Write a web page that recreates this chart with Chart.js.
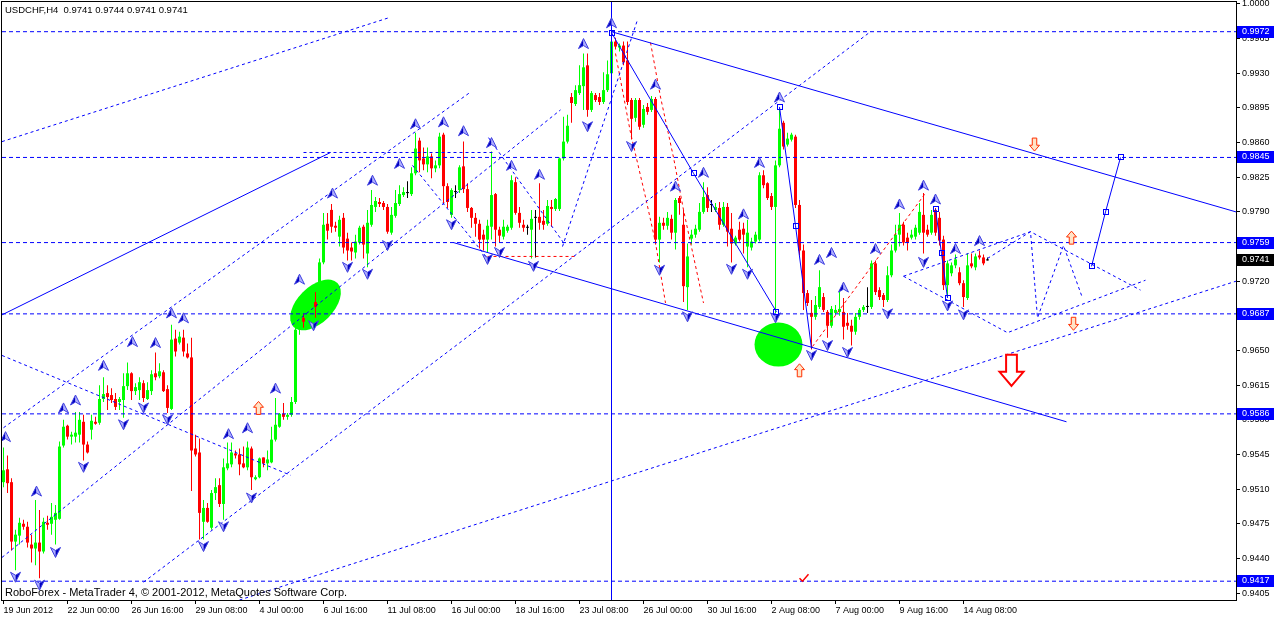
<!doctype html>
<html lang="en">
<head>
<meta charset="utf-8">
<title>USDCHF,H4</title>
<script src="https://cdn.jsdelivr.net/npm/chart.js@4.4.1/dist/chart.umd.min.js"></script>
<style>
  html, body { margin: 0; padding: 0; background: #fff; }
  #box { width: 1274px; height: 618px; }
</style>
</head>
<body>
<div id="box"><canvas id="myChart" width="1274" height="618"></canvas></div>
<script>
// ---- H4 candles, bar 0 = first visible bar ----
const opens = [
  0.9517,0.9530,0.9517,0.9457,0.9463,0.9475,0.9472,0.9454,0.9450,0.9456,
  0.9447,0.9476,0.9475,0.9479,0.9480,0.9554,0.9574,0.9563,0.9563,0.9565,
  0.9578,0.9555,0.9570,0.9578,0.9577,0.9601,0.9607,0.9605,0.9601,0.9598,
  0.9600,0.9614,0.9627,0.9609,0.9610,0.9617,0.9601,0.9609,0.9627,0.9624,
  0.9628,0.9611,0.9591,0.9662,0.9658,0.9663,0.9647,0.9643,0.9551,0.9547,
  0.9477,0.9491,0.9471,0.9506,0.9514,0.9495,0.9531,0.9535,0.9546,0.9545,
  0.9536,0.9532,0.9551,0.9520,0.9522,0.9542,0.9536,0.9537,0.9560,0.9573,
  0.9586,0.9583,0.9585,0.9598,0.9671,0.9683,0.9679,0.9691,0.9699,0.9694,
  0.9739,0.9778,0.9792,0.9776,0.9765,0.9784,0.9763,0.9754,0.9749,0.9759,
  0.9775,0.9748,0.9777,0.9795,0.9800,0.9799,0.9795,0.9769,0.9786,0.9798,
  0.9807,0.9809,0.9808,0.9829,0.9862,0.9844,0.9838,0.9846,0.9834,0.9837,
  0.9868,0.9816,0.9787,0.9810,0.9812,0.9836,0.9813,0.9794,0.9784,0.9778,
  0.9767,0.9762,0.9775,0.9808,0.9772,0.9765,0.9771,0.9774,0.9820,0.9789,
  0.9777,0.9774,0.9772,0.9784,0.9785,0.9781,0.9778,0.9795,0.9793,0.9793,
  0.9844,0.9861,0.9906,0.9899,0.9910,0.9917,0.9938,0.9893,0.9908,0.9906,
  0.9901,0.9913,0.9930,0.9962,0.9956,0.9958,0.9943,0.9903,0.9885,0.9903,
  0.9878,0.9896,0.9893,0.9904,0.9762,0.9779,0.9776,0.9783,0.9769,0.9804,
  0.9777,0.9714,0.9763,0.9767,0.9772,0.9790,0.9807,0.9797,0.9792,0.9794,
  0.9777,0.9795,0.9773,0.9758,0.9772,0.9773,0.9755,0.9754,0.9760,0.9762,
  0.9827,0.9819,0.9806,0.9795,0.9837,0.9880,0.9858,0.9863,0.9866,0.9797,
  0.9751,0.9708,0.9688,0.9684,0.9694,0.9704,0.9689,0.9675,0.9688,0.9689,
  0.9689,0.9678,0.9675,0.9669,0.9684,0.9691,0.9694,0.9694,0.9738,0.9711,
  0.9706,0.9701,0.9726,0.9751,0.9767,0.9777,0.9764,0.9764,0.9765,0.9769,
  0.9787,0.9772,0.9769,0.9792,0.9784,0.9762,0.9716,0.9728,0.9736,0.9729,
  0.9718,0.9703,0.9738,0.9734,0.9746,0.9744,0.9741
];
const highs = [
  0.9552,0.9544,0.9521,0.9469,0.9481,0.9479,0.9477,0.9464,0.9499,0.9489,
  0.9481,0.9483,0.9496,0.9494,0.9558,0.9580,0.9575,0.9568,0.9588,0.9588,
  0.9585,0.9558,0.9585,0.9583,0.9615,0.9623,0.9615,0.9612,0.9607,0.9603,
  0.9627,0.9638,0.9628,0.9617,0.9623,0.9620,0.9618,0.9630,0.9648,0.9637,
  0.9630,0.9615,0.9676,0.9671,0.9669,0.9671,0.9657,0.9663,0.9565,0.9561,
  0.9499,0.9496,0.9509,0.9521,0.9521,0.9541,0.9557,0.9557,0.9549,0.9551,
  0.9553,0.9558,0.9553,0.9524,0.9542,0.9542,0.9549,0.9573,0.9602,0.9587,
  0.9597,0.9587,0.9603,0.9676,0.9689,0.9687,0.9696,0.9703,0.9709,0.9743,
  0.9789,0.9789,0.9798,0.9780,0.9786,0.9789,0.9769,0.9759,0.9767,0.9776,
  0.9777,0.9792,0.9812,0.9805,0.9804,0.9801,0.9798,0.9795,0.9812,0.9817,
  0.9815,0.9821,0.9835,0.9870,0.9865,0.9855,0.9855,0.9849,0.9842,0.9870,
  0.9870,0.9819,0.9814,0.9817,0.9837,0.9861,0.9819,0.9795,0.9789,0.9782,
  0.9772,0.9782,0.9851,0.9809,0.9775,0.9782,0.9777,0.9827,0.9825,0.9795,
  0.9782,0.9777,0.9792,0.9792,0.9819,0.9792,0.9802,0.9802,0.9804,0.9845,
  0.9886,0.9888,0.9910,0.9918,0.9938,0.9950,0.9950,0.9912,0.9910,0.9910,
  0.9931,0.9943,0.9972,0.9966,0.9960,0.9962,0.9962,0.9905,0.9905,0.9905,
  0.9898,0.9900,0.9907,0.9906,0.9785,0.9784,0.9790,0.9787,0.9804,0.9806,
  0.9792,0.9758,0.9772,0.9777,0.9799,0.9820,0.9815,0.9802,0.9799,0.9800,
  0.9800,0.9799,0.9789,0.9766,0.9780,0.9779,0.9782,0.9764,0.9770,0.9830,
  0.9832,0.9820,0.9809,0.9842,0.9895,0.9882,0.9870,0.9870,0.9868,0.9802,
  0.9757,0.9711,0.9701,0.9705,0.9731,0.9708,0.9691,0.9695,0.9696,0.9711,
  0.9703,0.9688,0.9681,0.9688,0.9693,0.9696,0.9714,0.9741,0.9741,0.9714,
  0.9708,0.9735,0.9757,0.9777,0.9789,0.9780,0.9769,0.9772,0.9777,0.9799,
  0.9809,0.9777,0.9792,0.9794,0.9790,0.9766,0.9741,0.9739,0.9747,0.9734,
  0.9721,0.9748,0.9748,0.9748,0.9751,0.9747,0.9744
];
const lows = [
  0.9512,0.9506,0.9448,0.9428,0.9454,0.9469,0.9451,0.9436,0.9433,0.9420,
  0.9445,0.9469,0.9464,0.9454,0.9479,0.9552,0.9560,0.9555,0.9557,0.9557,
  0.9539,0.9546,0.9560,0.9575,0.9575,0.9598,0.9590,0.9597,0.9590,0.9590,
  0.9582,0.9610,0.9600,0.9605,0.9600,0.9598,0.9600,0.9605,0.9620,0.9622,
  0.9608,0.9587,0.9590,0.9644,0.9656,0.9644,0.9642,0.9508,0.9543,0.9459,
  0.9459,0.9476,0.9469,0.9499,0.9492,0.9479,0.9529,0.9532,0.9541,0.9524,
  0.9531,0.9529,0.9509,0.9519,0.9521,0.9532,0.9529,0.9536,0.9558,0.9572,
  0.9580,0.9580,0.9583,0.9596,0.9666,0.9673,0.9676,0.9688,0.9683,0.9690,
  0.9737,0.9762,0.9769,0.9770,0.9755,0.9748,0.9741,0.9741,0.9743,0.9757,
  0.9743,0.9734,0.9775,0.9790,0.9795,0.9792,0.9768,0.9767,0.9784,0.9796,
  0.9805,0.9804,0.9806,0.9827,0.9830,0.9832,0.9830,0.9824,0.9830,0.9834,
  0.9799,0.9794,0.9784,0.9804,0.9809,0.9809,0.9790,0.9774,0.9765,0.9753,
  0.9751,0.9749,0.9762,0.9755,0.9759,0.9762,0.9769,0.9772,0.9787,0.9774,
  0.9770,0.9767,0.9743,0.9744,0.9772,0.9772,0.9776,0.9775,0.9791,0.9791,
  0.9842,0.9859,0.9880,0.9897,0.9908,0.9893,0.9886,0.9891,0.9901,0.9898,
  0.9899,0.9911,0.9928,0.9954,0.9952,0.9938,0.9898,0.9863,0.9881,0.9873,
  0.9875,0.9888,0.9891,0.9757,0.9739,0.9772,0.9772,0.9762,0.9752,0.9787,
  0.9699,0.9691,0.9757,0.9764,0.9770,0.9788,0.9790,0.9790,0.9790,0.9772,
  0.9775,0.9755,0.9739,0.9756,0.9760,0.9748,0.9734,0.9751,0.9758,0.9760,
  0.9814,0.9802,0.9792,0.9688,0.9835,0.9853,0.9856,0.9861,0.9794,0.9746,
  0.9691,0.9695,0.9651,0.9681,0.9692,0.9689,0.9663,0.9673,0.9686,0.9685,
  0.9661,0.9671,0.9655,0.9666,0.9681,0.9689,0.9688,0.9692,0.9706,0.9701,
  0.9694,0.9699,0.9724,0.9749,0.9755,0.9756,0.9751,0.9762,0.9762,0.9767,
  0.9748,0.9765,0.9767,0.9766,0.9756,0.9711,0.9704,0.9725,0.9733,0.9716,
  0.9694,0.9701,0.9733,0.9731,0.9742,0.9736,0.9741
];
const closes = [
  0.9529,0.9516,0.9457,0.9464,0.9476,0.9472,0.9456,0.9450,0.9456,0.9447,
  0.9477,0.9474,0.9482,0.9486,0.9553,0.9573,0.9563,0.9565,0.9567,0.9580,
  0.9555,0.9547,0.9579,0.9576,0.9601,0.9606,0.9603,0.9600,0.9593,0.9601,
  0.9614,0.9627,0.9609,0.9613,0.9618,0.9602,0.9610,0.9626,0.9623,0.9629,
  0.9609,0.9592,0.9661,0.9649,0.9664,0.9649,0.9643,0.9549,0.9545,0.9486,
  0.9491,0.9477,0.9506,0.9512,0.9495,0.9532,0.9536,0.9547,0.9544,0.9535,
  0.9532,0.9552,0.9522,0.9522,0.9541,0.9536,0.9540,0.9560,0.9575,0.9586,
  0.9583,0.9585,0.9598,0.9671,0.9683,0.9679,0.9691,0.9698,0.9694,0.9739,
  0.9777,0.9771,0.9775,0.9774,0.9782,0.9754,0.9751,0.9750,0.9760,0.9774,
  0.9757,0.9779,0.9797,0.9801,0.9798,0.9795,0.9770,0.9787,0.9799,0.9808,
  0.9810,0.9809,0.9829,0.9854,0.9842,0.9838,0.9846,0.9834,0.9837,0.9866,
  0.9816,0.9800,0.9812,0.9810,0.9835,0.9813,0.9794,0.9784,0.9778,0.9762,
  0.9762,0.9776,0.9807,0.9772,0.9766,0.9775,0.9775,0.9822,0.9789,0.9779,
  0.9774,0.9774,0.9783,0.9784,0.9779,0.9777,0.9796,0.9793,0.9803,0.9844,
  0.9861,0.9877,0.9900,0.9913,0.9918,0.9936,0.9893,0.9910,0.9903,0.9901,
  0.9913,0.9929,0.9962,0.9957,0.9958,0.9941,0.9901,0.9884,0.9903,0.9876,
  0.9894,0.9891,0.9904,0.9762,0.9779,0.9776,0.9784,0.9769,0.9802,0.9799,
  0.9715,0.9745,0.9767,0.9773,0.9790,0.9805,0.9794,0.9797,0.9795,0.9777,
  0.9795,0.9770,0.9758,0.9764,0.9762,0.9767,0.9769,0.9760,0.9767,0.9827,
  0.9817,0.9804,0.9795,0.9837,0.9874,0.9856,0.9864,0.9868,0.9797,0.9751,
  0.9708,0.9698,0.9684,0.9696,0.9714,0.9691,0.9675,0.9692,0.9691,0.9692,
  0.9674,0.9675,0.9669,0.9684,0.9691,0.9694,0.9694,0.9738,0.9709,0.9704,
  0.9701,0.9726,0.9751,0.9767,0.9777,0.9759,0.9759,0.9767,0.9774,0.9790,
  0.9769,0.9767,0.9787,0.9769,0.9761,0.9716,0.9738,0.9736,0.9742,0.9718,
  0.9704,0.9736,0.9735,0.9745,0.9744,0.9738,0.9741
];

// ---- axes ----
const timeLabels = ['19 Jun 2012','22 Jun 00:00','26 Jun 16:00','29 Jun 08:00','4 Jul 00:00','6 Jul 16:00',
  '11 Jul 08:00','16 Jul 00:00','18 Jul 16:00','23 Jul 08:00','26 Jul 00:00','30 Jul 16:00',
  '2 Aug 08:00','7 Aug 00:00','9 Aug 16:00','14 Aug 08:00'];
const timeBars = [0,16,32,48,64,80,96,112,128,144,160,176,192,208,224,240];
const priceTicks = [1.0000,0.9965,0.9930,0.9895,0.9860,0.9825,0.9790,0.9755,0.9720,0.9685,
  0.9650,0.9615,0.9580,0.9545,0.9510,0.9475,0.9440,0.9405];
const levels = [0.9972,0.9845,0.9759,0.9687,0.9586,0.9417];
const lastPrice = 0.9741;
const markerBar = 152;

// ---- fractal arrows ----
const upBars = [0.5,8.25,15,18,25,32.25,38,42,45,56.25,61,68,74,82.25,92.25,99,103,110,115,122,127,134,
  145,152,163,168,175,185,189,194,204,207,210,218,224,230,233,238,244];
const upPrices = [0.9563,0.9508,0.9592,0.9600,0.9635,0.9659,0.9658,0.9688,0.9683,0.9566,0.9572,0.9612,0.9722,
  0.9809,0.9822,0.9839,0.9879,0.9881,0.9872,0.9860,0.9837,0.9828,0.9960,0.9981,0.9919,0.9816,0.9830,0.9788,
  0.9840,0.9906,0.9742,0.9749,0.9714,0.9753,0.9798,0.9817,0.9803,0.9753,0.9761];
const dnBars = [3,9,13,20,30,35,41,50,55,62,77.5,86,91,96,112,121,124,132.5,146,157,164,171,182,186,193,
  202,206,211,221,230,236,240];
const dnPrices = [0.9421,0.9413,0.9446,0.9532,0.9575,0.9592,0.9580,0.9452,0.9472,0.9501,0.9675,0.9734,0.9727,
  0.9756,0.9777,0.9742,0.9749,0.9735,0.9876,0.9856,0.9731,0.9684,0.9732,0.9727,0.9683,0.9645,0.9655,0.9648,
  0.9687,0.9739,0.9695,0.9686];

// ---- drawn objects [bar, price] ----
const solidLines = [
  [[-0.375,0.9686],[81.75,0.9850]],
  [[152,0.9972],[308.125,0.9790]],
  [[112.5,0.9759],[265.75,0.9578]],
  [[152,0.9971],[172.5,0.9829],[193.25,0.9689]],
  [[194,0.9896],[198,0.9776],[202,0.9652]],
  [[233,0.9793],[234.5,0.9748],[236,0.9703]],
  [[272,0.9735],[275.5,0.9790],[279.25,0.9845]]
];
const waveBoxes = [[152,0.9971],[172.5,0.9829],[193.25,0.9689],[194,0.9896],[198,0.9776],
  [233,0.9793],[234.5,0.9748],[236,0.9703],[272,0.9735],[275.5,0.9790],[279.25,0.9845]];
const dotLines = [
  [[-0.375,0.9861],[96.25,0.9986]],
  [[0,0.9572],[116.75,0.9911]],
  [[-0.375,0.9645],[71.75,0.9524]],
  [[-0.375,0.9441],[139.25,0.9893]],
  [[35,0.9416],[216.75,0.9972]],
  [[59,0.9398],[308.125,0.9720]],
  [[139.75,0.9755],[158.5,0.9984]],
  [[102.25,0.9837],[121,0.9743]],
  [[121.25,0.9865],[140,0.9759]],
  [[75,0.9850],[122.5,0.9850]],
  [[225,0.9725],[256.75,0.9770],[284.25,0.9711]],
  [[225,0.9725],[251,0.9668],[285.5,0.9721]],
  [[246,0.9743],[256.75,0.9770],[258.5,0.9683],[265,0.9756],[269.75,0.9703]]
];
const redLines = [
  [[153,0.9950],[156.75,0.9870],[160.5,0.9805],[163,0.9759],[165.5,0.9698]],
  [[161.75,0.9961],[164.25,0.9906],[167.5,0.9845],[170,0.9792],[175,0.9698]],
  [[121,0.9745],[143.5,0.9745]],
  [[202.25,0.9654],[230.5,0.9809]]
];
const ellipseCenters = [[78,0.9696],[193.75,0.9656]];
const hollowUp = [[63.75,0.9592],[199,0.9630],[267,0.9764]];
const hollowDown = [[257.75,0.9858],[267.5,0.9677]];
const bigDown = [252,0.9630];
const checkMark = [200,0.9420];

const BLUE = '#0000ff';
const FONT = '"Liberation Sans", Arial, sans-serif';
const idx = opens.map((o, i) => i);
const candleColor = opens.map((o, i) => closes[i] > o ? '#00ff00' : (closes[i] < o ? '#ff0000' : '#000000'));

const mkLine = (pts, color, dash) => ({
  type: 'line',
  data: pts.map(p => ({x: p[0], y: p[1]})),
  borderColor: color,
  borderWidth: 1,
  borderDash: dash,
  pointRadius: 0,
  fill: false,
  tension: 0,
  order: 0
});

const datasets = [
  {
    type: 'bar',
    data: idx.map(i => ({x: i, y: [lows[i], highs[i]]})),
    backgroundColor: candleColor,
    barThickness: 1, grouped: false, borderWidth: 0, inflateAmount: 0, order: 10
  },
  {
    type: 'bar',
    data: idx.map(i => ({x: i, y: [opens[i], closes[i]]})),
    backgroundColor: candleColor,
    barThickness: 3, minBarLength: 1, grouped: false, borderWidth: 0, inflateAmount: 0, order: 9
  }
];
levels.forEach(v => datasets.push(mkLine([[-0.375, v], [308.125, v]], BLUE, [4, 3])));
datasets.push(mkLine([[markerBar, 0.9398], [markerBar, 1.0002]], BLUE, []));
solidLines.forEach(l => datasets.push(mkLine(l, BLUE, [])));
dotLines.forEach(l => datasets.push(mkLine(l, BLUE, [3, 3])));
redLines.forEach(l => datasets.push(mkLine(l, '#ff0000', [3, 3])));

const px = (chart, b, p) => [chart.scales.x.getPixelForValue(b), chart.scales.y.getPixelForValue(p)];

const drawUp = (ctx, x, y) => {
  ctx.beginPath(); ctx.moveTo(x, y - 5); ctx.lineTo(x - 5, y + 5); ctx.lineTo(x, y + 2); ctx.closePath();
  ctx.fillStyle = '#0000c0'; ctx.fill();
  ctx.beginPath(); ctx.moveTo(x, y - 5); ctx.lineTo(x + 5, y + 5); ctx.lineTo(x, y + 2); ctx.closePath();
  ctx.fillStyle = '#b0b0ff'; ctx.fill();
  ctx.beginPath(); ctx.moveTo(x, y - 5); ctx.lineTo(x + 5, y + 5); ctx.lineTo(x, y + 2); ctx.lineTo(x - 5, y + 5); ctx.closePath();
  ctx.strokeStyle = '#4040e0'; ctx.lineWidth = 1; ctx.stroke();
};
const drawDown = (ctx, x, y) => {
  ctx.beginPath(); ctx.moveTo(x, y + 5); ctx.lineTo(x - 5, y - 5); ctx.lineTo(x, y - 2); ctx.closePath();
  ctx.fillStyle = '#b0b0ff'; ctx.fill();
  ctx.beginPath(); ctx.moveTo(x, y + 5); ctx.lineTo(x + 5, y - 5); ctx.lineTo(x, y - 2); ctx.closePath();
  ctx.fillStyle = '#0000c0'; ctx.fill();
  ctx.beginPath(); ctx.moveTo(x, y + 5); ctx.lineTo(x + 5, y - 5); ctx.lineTo(x, y - 2); ctx.lineTo(x - 5, y - 5); ctx.closePath();
  ctx.strokeStyle = '#4040e0'; ctx.lineWidth = 1; ctx.stroke();
};
const blockArrow = (ctx, x, y, s, dir, fill, stroke, lw) => {
  // s = half width of the head, dir 1 = up, -1 = down
  const h = s * 1.3;
  const w = s * 0.45;
  ctx.beginPath();
  ctx.moveTo(x, y - dir * h);
  ctx.lineTo(x + s, y - dir * h * 0.1);
  ctx.lineTo(x + w, y - dir * h * 0.1);
  ctx.lineTo(x + w, y + dir * h);
  ctx.lineTo(x - w, y + dir * h);
  ctx.lineTo(x - w, y - dir * h * 0.1);
  ctx.lineTo(x - s, y - dir * h * 0.1);
  ctx.closePath();
  ctx.fillStyle = fill; ctx.fill();
  ctx.strokeStyle = stroke; ctx.lineWidth = lw; ctx.stroke();
};

const objects = {
  id: 'objects',
  beforeDatasetsDraw(chart) {
    const ctx = chart.ctx;
    const a = chart.chartArea;
    ctx.save();
    ctx.beginPath(); ctx.rect(a.left, a.top, a.right - a.left, a.bottom - a.top); ctx.clip();
    ctx.fillStyle = '#00ff00';
    const [x1, y1] = px(chart, ellipseCenters[0][0], ellipseCenters[0][1]);
    ctx.beginPath(); ctx.ellipse(x1, y1, 31, 18, -Math.PI / 4, 0, Math.PI * 2); ctx.fill();
    const [x2, y2] = px(chart, ellipseCenters[1][0], ellipseCenters[1][1]);
    ctx.beginPath(); ctx.ellipse(x2, y2, 24, 22, 0, 0, Math.PI * 2); ctx.fill();
    ctx.restore();
  },
  afterDatasetsDraw(chart) {
    const ctx = chart.ctx;
    const a = chart.chartArea;
    ctx.save();
    ctx.beginPath(); ctx.rect(a.left, a.top, a.right - a.left, a.bottom - a.top); ctx.clip();
    upBars.forEach((b, i) => { const [x, y] = px(chart, b, upPrices[i]); drawUp(ctx, x, y); });
    dnBars.forEach((b, i) => { const [x, y] = px(chart, b, dnPrices[i]); drawDown(ctx, x, y); });
    ctx.strokeStyle = BLUE; ctx.lineWidth = 1;
    waveBoxes.forEach(p => { const [x, y] = px(chart, p[0], p[1]); ctx.strokeRect(Math.round(x) - 2.5, Math.round(y) - 2.5, 5, 5); });
    hollowUp.forEach(p => { const [x, y] = px(chart, p[0], p[1]); blockArrow(ctx, x, y, 5, 1, '#ffe4c8', '#ff3000', 1); });
    hollowDown.forEach(p => { const [x, y] = px(chart, p[0], p[1]); blockArrow(ctx, x, y, 5, -1, '#ffe4c8', '#ff3000', 1); });
    const [bx, by] = px(chart, bigDown[0], bigDown[1]);
    blockArrow(ctx, bx, by, 12, -1, '#ffffff', '#ff0000', 2);
    const [cx, cy] = px(chart, checkMark[0], checkMark[1]);
    ctx.beginPath(); ctx.moveTo(cx - 4, cy); ctx.lineTo(cx - 1, cy + 3); ctx.lineTo(cx + 5, cy - 4);
    ctx.strokeStyle = '#ff0000'; ctx.lineWidth = 1.5; ctx.stroke();
    ctx.restore();
  },
  afterDraw(chart) {
    const ctx = chart.ctx;
    const a = chart.chartArea;
    ctx.save();
    ctx.strokeStyle = '#000'; ctx.lineWidth = 1;
    ctx.strokeRect(a.left - 0.5, a.top - 0.5, a.right - a.left + 1, a.bottom - a.top + 1);
    ctx.textBaseline = 'middle';
    ctx.fillStyle = '#000';
    ctx.font = '9.5px ' + FONT;
    ctx.fillText('USDCHF,H4  0.9741 0.9744 0.9741 0.9741', 5, 10);
    ctx.font = '11px ' + FONT;
    ctx.fillText('RoboForex - MetaTrader 4, \u00a9 2001-2012, MetaQuotes Software Corp.', 5, 593);
    ctx.font = '9px ' + FONT;
    const boxes = levels.map(v => [v, BLUE]).concat([[lastPrice, '#000000']]);
    boxes.forEach(([v, c]) => {
      const y = Math.round(chart.scales.y.getPixelForValue(v));
      ctx.fillStyle = c;
      ctx.fillRect(a.right + 1, y - 6, 37, 12);
      ctx.fillStyle = '#ffffff';
      ctx.fillText(v.toFixed(4), a.right + 6, y);
    });
    ctx.restore();
  }
};

new Chart(document.getElementById('myChart'), {
  type: 'bar',
  data: { datasets: datasets },
  options: {
    responsive: false,
    animation: false,
    events: [],
    layout: { autoPadding: false, padding: { left: 2, top: 2, right: 0, bottom: 0 } },
    plugins: { legend: { display: false }, tooltip: { enabled: false } },
    scales: {
      x: {
        type: 'linear', min: -0.375, max: 308.125, offset: false,
        afterFit: s => { s.height = 18; s.paddingLeft = 0; s.paddingRight = 0; },
        afterBuildTicks: s => { s.ticks = timeBars.map(v => ({value: v})); },
        grid: { display: true, drawOnChartArea: false, drawTicks: true, tickLength: 4, color: '#000', offset: false },
        border: { display: true, color: '#000' },
        ticks: {
          autoSkip: false, maxRotation: 0, align: 'start', padding: 1,
          color: '#000', font: { family: FONT, size: 9 },
          callback: (v, i) => timeLabels[i]
        }
      },
      y: {
        type: 'linear', position: 'right', min: 0.9398, max: 1.0002, stacked: false,
        afterFit: s => { s.width = 38; s.paddingTop = 0; s.paddingBottom = 0; },
        afterBuildTicks: s => { s.ticks = priceTicks.map(v => ({value: v})); },
        grid: { display: true, drawOnChartArea: false, drawTicks: true, tickLength: 4, color: '#000' },
        border: { display: true, color: '#000' },
        ticks: {
          autoSkip: false, padding: 2,
          color: '#000', font: { family: FONT, size: 9 },
          callback: v => v.toFixed(4)
        }
      }
    }
  },
  plugins: [objects]
});
</script>
</body>
</html>
